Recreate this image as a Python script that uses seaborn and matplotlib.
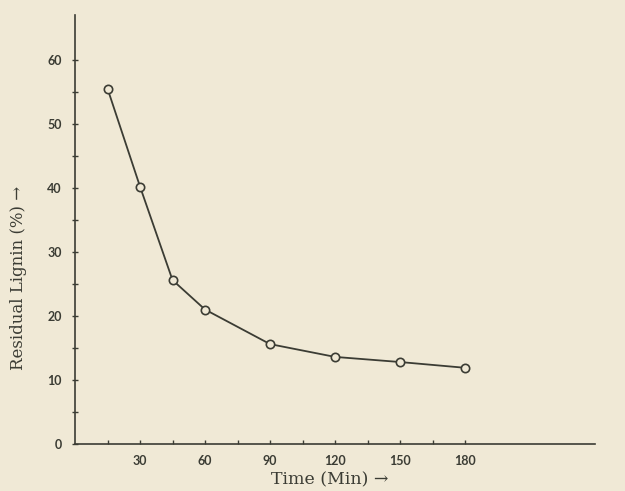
import matplotlib
matplotlib.use("Agg")
import matplotlib.pyplot as plt
import seaborn as sns
import pandas as pd
from matplotlib.ticker import FixedLocator

time_min = [15, 30, 45, 60, 90, 120, 150, 180]
residual_lignin = [55.5, 40.2, 25.6, 21.0, 15.6, 13.6, 12.8, 11.9]
x_ticks = [30, 60, 90, 120, 150, 180]
y_ticks = [0, 10, 20, 30, 40, 50, 60]

df = pd.DataFrame({"time": time_min, "lignin": residual_lignin})

sns.set_theme(style="ticks")
bg = "#f0e9d6"
ink = "#3b3c34"
plt.rcParams["font.family"] = ["Lato", "DejaVu Sans"]

fig = plt.figure(figsize=(6.25, 4.91), dpi=100, facecolor=bg)
ax = fig.add_axes([0.12, 0.0957, 0.832, 0.874])
ax.set_facecolor(bg)

sns.lineplot(data=df, x="time", y="lignin", ax=ax, color=ink, linewidth=1.3,
             marker="o", markersize=6, markerfacecolor=bg,
             markeredgecolor=ink, markeredgewidth=1.2)

ax.set_xlim(0, 240)
ax.set_ylim(0, 67)
ax.xaxis.set_major_locator(FixedLocator(x_ticks))
ax.xaxis.set_minor_locator(FixedLocator([15, 45, 75, 105, 135, 165]))
ax.yaxis.set_major_locator(FixedLocator(y_ticks))
ax.yaxis.set_minor_locator(FixedLocator([5, 15, 25, 35, 45, 55]))

for s in ["top", "right"]:
    ax.spines[s].set_visible(False)
for s in ["left", "bottom"]:
    ax.spines[s].set_color(ink)
    ax.spines[s].set_linewidth(1.2)

ax.tick_params(axis="x", which="both", direction="in", length=3, width=1, color=ink,
               labelsize=9, labelcolor=ink, pad=8)
ax.tick_params(axis="y", which="both", direction="inout", length=5, width=1, color=ink,
               labelsize=9, labelcolor=ink, pad=7)
for lab in ax.get_xticklabels() + ax.get_yticklabels():
    lab.set_fontweight("bold")

serif = ["DejaVu Serif"]
ax.set_xlabel("Time (Min) →", fontsize=12.5, family=serif, color=ink)
ax.set_ylabel("Residual Lignin (%) →", fontsize=12, family=serif, color=ink)
ax.xaxis.set_label_coords(0.49, -0.064)
ax.yaxis.set_label_coords(-0.092, 0.387)

fig.savefig("out.png", dpi=100, facecolor=bg)
